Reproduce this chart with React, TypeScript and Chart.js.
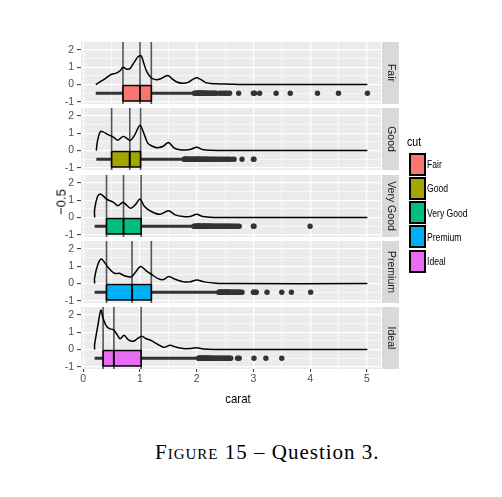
import React, { useEffect, useRef } from "react";
import { Chart, registerables } from "chart.js";

Chart.register(...registerables);

// ---------- data ----------
const CUTS = ["Fair", "Good", "Very Good", "Premium", "Ideal"];
const FILLS = ["#F8766D", "#A3A500", "#00BF7D", "#00B0F6", "#E76BF3"];
const X_GRID = [0, 0.5, 1, 1.5, 2, 2.5, 3, 3.5, 4, 4.5, 5];
const Y_GRID = [-1, -0.5, 0, 0.5, 1, 1.5, 2];

const Q1 = [0.7, 0.5, 0.41, 0.41, 0.35];
const MEDIAN = [1.0, 0.82, 0.71, 0.86, 0.54];
const Q3 = [1.2, 1.01, 1.02, 1.2, 1.02];
const WHISK_LO = [0.22, 0.23, 0.2, 0.2, 0.2];
const WHISK_HI = [1.93, 1.77, 1.93, 2.38, 2.02];

const OUT_FAIR = [1.96, 1.98, 2.0, 2.01, 2.02, 2.03, 2.04, 2.05, 2.06, 2.07, 2.08, 2.09, 2.1, 2.11, 2.12, 2.14, 2.15, 2.17, 2.18, 2.2, 2.22, 2.25, 2.28, 2.3, 2.32, 2.34, 2.4, 2.44, 2.48, 2.51, 2.54, 2.58, 2.74, 3.0, 3.02, 3.11, 3.4, 3.65, 4.13, 4.5, 5.01];
const OUT_GOOD = [1.78, 1.79, 1.8, 1.81, 1.82, 1.83, 1.84, 1.86, 1.88, 1.9, 1.91, 1.93, 1.95, 1.97, 1.99, 2.0, 2.01, 2.02, 2.04, 2.05, 2.07, 2.09, 2.1, 2.12, 2.14, 2.16, 2.18, 2.2, 2.22, 2.25, 2.28, 2.3, 2.33, 2.36, 2.4, 2.43, 2.47, 2.51, 2.54, 2.57, 2.62, 2.66, 2.8, 3.0, 3.01];
const OUT_VERYGOOD = [1.95, 1.97, 1.99, 2.0, 2.01, 2.02, 2.03, 2.04, 2.05, 2.06, 2.07, 2.08, 2.1, 2.11, 2.12, 2.13, 2.14, 2.15, 2.16, 2.18, 2.19, 2.2, 2.21, 2.22, 2.24, 2.25, 2.26, 2.28, 2.3, 2.32, 2.34, 2.36, 2.38, 2.4, 2.42, 2.44, 2.46, 2.48, 2.5, 2.52, 2.54, 2.56, 2.58, 2.6, 2.63, 2.66, 2.68, 2.72, 2.75, 3.0, 3.01, 4.0];
const OUT_PREMIUM = [2.39, 2.4, 2.41, 2.42, 2.43, 2.44, 2.45, 2.46, 2.48, 2.49, 2.5, 2.51, 2.52, 2.53, 2.54, 2.55, 2.56, 2.57, 2.58, 2.6, 2.61, 2.63, 2.65, 2.67, 2.68, 2.7, 2.72, 2.74, 2.75, 2.77, 2.8, 3.0, 3.01, 3.04, 3.05, 3.24, 3.5, 3.67, 4.01];
const OUT_IDEAL = [2.03, 2.04, 2.05, 2.06, 2.07, 2.08, 2.09, 2.1, 2.11, 2.12, 2.13, 2.14, 2.15, 2.16, 2.17, 2.18, 2.19, 2.2, 2.21, 2.22, 2.24, 2.25, 2.26, 2.28, 2.3, 2.32, 2.34, 2.36, 2.38, 2.4, 2.42, 2.44, 2.46, 2.48, 2.5, 2.52, 2.54, 2.56, 2.58, 2.6, 2.72, 2.75, 3.01, 3.22, 3.5];
const OUTLIERS = [OUT_FAIR, OUT_GOOD, OUT_VERYGOOD, OUT_PREMIUM, OUT_IDEAL];

const DX_FAIR = [0.22, 0.3, 0.4, 0.5, 0.58, 0.65, 0.7, 0.76, 0.82, 0.9, 0.97, 1.02, 1.07, 1.12, 1.2, 1.29, 1.38, 1.44, 1.5, 1.56, 1.65, 1.75, 1.85, 1.93, 2.0, 2.07, 2.15, 2.25, 2.4, 2.6, 2.8, 5.01];
const DY_FAIR = [0, 0.17, 0.38, 0.6, 0.66, 0.8, 1.0, 0.9, 0.92, 1.3, 1.62, 1.67, 1.2, 0.75, 0.38, 0.28, 0.36, 0.47, 0.52, 0.35, 0.15, 0.08, 0.13, 0.3, 0.4, 0.3, 0.13, 0.06, 0.04, 0.02, 0.005, 0];
const DX_GOOD = [0.23, 0.25, 0.3, 0.35, 0.44, 0.53, 0.61, 0.7, 0.75, 0.83, 0.91, 1.0, 1.07, 1.14, 1.22, 1.3, 1.41, 1.5, 1.6, 1.7, 1.8, 1.9, 2.0, 2.1, 2.25, 2.5, 5.01];
const DY_GOOD = [0, 0.55, 1.1, 1.08, 0.92, 0.78, 0.6, 0.82, 0.75, 0.59, 0.92, 1.47, 0.98, 0.42, 0.25, 0.16, 0.25, 0.47, 0.16, 0.05, 0.04, 0.08, 0.2, 0.06, 0.02, 0.005, 0];
const DX_VERYGOOD = [0.2, 0.2, 0.25, 0.3, 0.35, 0.41, 0.47, 0.53, 0.61, 0.7, 0.77, 0.84, 0.92, 1.0, 1.08, 1.2, 1.35, 1.5, 1.62, 1.76, 1.88, 2.0, 2.11, 2.3, 2.6, 5.01];
const DY_VERYGOOD = [0, 0.48, 1.2, 1.36, 1.25, 1.07, 0.97, 0.89, 0.68, 0.89, 0.7, 0.54, 0.75, 1.07, 0.64, 0.35, 0.19, 0.39, 0.16, 0.06, 0.06, 0.19, 0.06, 0.01, 0, 0];
const DX_PREMIUM = [0.2, 0.2, 0.26, 0.32, 0.38, 0.44, 0.5, 0.56, 0.64, 0.73, 0.85, 0.93, 1.01, 1.11, 1.2, 1.32, 1.41, 1.51, 1.62, 1.77, 1.88, 2.0, 2.13, 2.34, 2.6, 5.01];
const DY_PREMIUM = [0, 0.35, 1.13, 1.42, 1.2, 0.93, 0.72, 0.58, 0.6, 0.45, 0.39, 0.7, 0.99, 0.74, 0.54, 0.29, 0.23, 0.41, 0.25, 0.1, 0.1, 0.21, 0.1, 0.02, 0, 0];
const DX_IDEAL = [0.2, 0.2, 0.26, 0.31, 0.35, 0.4, 0.46, 0.53, 0.59, 0.65, 0.72, 0.79, 0.88, 0.95, 1.03, 1.11, 1.2, 1.32, 1.42, 1.53, 1.64, 1.76, 1.88, 2.0, 2.12, 2.3, 2.6, 5.01];
const DY_IDEAL = [0, 0.29, 1.44, 2.28, 1.8, 1.4, 1.21, 1.15, 0.9, 0.63, 0.83, 0.58, 0.48, 0.62, 0.77, 0.63, 0.52, 0.29, 0.13, 0.25, 0.13, 0.06, 0.06, 0.1, 0.04, 0.01, 0, 0];
const DENS_X = [DX_FAIR, DX_GOOD, DX_VERYGOOD, DX_PREMIUM, DX_IDEAL];
const DENS_Y = [DY_FAIR, DY_GOOD, DY_VERYGOOD, DY_PREMIUM, DY_IDEAL];

const BOX_Y = -0.5;
const BOX_HALF = 0.45;
const X_MIN = -0.04, X_MAX = 5.25;
const Y_MIN = -1.12, Y_MAX = 2.46;

// ---------- layout ----------
const FAM = "'Liberation Sans Narrow', 'Liberation Sans', Arial, sans-serif";
const PANEL_TOPS = [42, 108, 175, 241, 307];
const PANEL_H = 62;
const PAD_T = 12;
const CANVAS_W = 402;

const isInt = (v: number) => Math.abs(v - Math.round(v)) < 1e-9;

const panelPlugin = {
  id: "panelDeco",
  beforeDraw(chart: any) {
    const { ctx, chartArea: a } = chart;
    ctx.save();
    ctx.fillStyle = "#EBEBEB";
    ctx.fillRect(a.left, a.top, a.right - a.left, a.bottom - a.top);
    ctx.restore();
  },
  afterDraw(chart: any) {
    const { ctx, chartArea: a } = chart;
    const label = chart.options.plugins.panelDeco.label;
    ctx.save();
    ctx.fillStyle = "#D9D9D9";
    ctx.fillRect(a.right + 1, a.top, 17, a.bottom - a.top);
    ctx.translate(a.right + 1 + 8.5, (a.top + a.bottom) / 2);
    ctx.rotate(Math.PI / 2);
    ctx.fillStyle = "#1A1A1A";
    ctx.font = `10.5px ${FAM}`;
    ctx.textAlign = "center";
    ctx.textBaseline = "middle";
    ctx.fillText(label, 0, 0);
    ctx.restore();
  },
};

function Panel({ idx }: { idx: number }) {
  const ref = useRef<HTMLCanvasElement>(null);
  const last = idx === CUTS.length - 1;
  const height = PAD_T + PANEL_H + (last ? 28 : 12);
  useEffect(() => {
    const pts = (xs: number[], ys: number[]) => xs.map((x, i) => ({ x, y: ys[i] }));
    const vline = (x: number) => ({
      data: [{ x, y: Y_MIN }, { x, y: Y_MAX }],
      borderColor: "#555555",
      borderWidth: 1.6,
      order: 6,
    });
    const top = BOX_Y + BOX_HALF, bot = BOX_Y - BOX_HALF;
    const chart = new Chart(ref.current!, {
      type: "line",
      data: {
        datasets: [
          {
            data: pts(DENS_X[idx], DENS_Y[idx]),
            borderColor: "#000",
            borderWidth: 1.5,
            tension: 0.3,
            fill: false,
            order: 1,
          },
          {
            data: [{ x: MEDIAN[idx], y: top }, { x: MEDIAN[idx], y: bot }],
            borderColor: "#000",
            borderWidth: 2,
            order: 1.5,
          },
          {
            data: [
              { x: Q1[idx], y: top }, { x: Q3[idx], y: top },
              { x: Q3[idx], y: bot }, { x: Q1[idx], y: bot }, { x: Q1[idx], y: top },
            ],
            borderColor: "#000",
            borderWidth: 1.6,
            backgroundColor: FILLS[idx],
            fill: "shape",
            order: 2,
          },
          {
            data: OUTLIERS[idx].map((x) => ({ x, y: BOX_Y })),
            showLine: false,
            pointRadius: 2.7,
            pointBackgroundColor: "#333333",
            pointBorderWidth: 0,
            order: 3,
          },
          {
            data: [{ x: WHISK_LO[idx], y: BOX_Y }, { x: WHISK_HI[idx], y: BOX_Y }],
            borderColor: "#333333",
            borderWidth: 3,
            order: 4,
          },
          vline(Q1[idx]),
          vline(MEDIAN[idx]),
          vline(Q3[idx]),
        ] as any,
      },
      options: {
        animation: false,
        responsive: false,
        events: [],
        elements: { point: { radius: 0 }, line: { tension: 0 } },
        layout: { padding: { left: 51, right: 21, top: PAD_T, bottom: last ? 4 : 12 } },
        plugins: {
          legend: { display: false },
          tooltip: { enabled: false },
          panelDeco: { label: CUTS[idx] },
        } as any,
        scales: {
          x: {
            type: "linear",
            min: X_MIN,
            max: X_MAX,
            afterBuildTicks: (s: any) => { s.ticks = X_GRID.map((v) => ({ value: v })); },
            afterFit: (s: any) => { s.height = last ? 24 : 0; },
            ticks: {
              display: last,
              autoSkip: false,
              maxRotation: 0,
              padding: 1,
              color: "#4D4D4D",
              font: { size: 10.5, family: FAM },
              callback: (v: any) => (isInt(v) ? String(v) : ""),
            },
            grid: {
              color: "#FFFFFF",
              lineWidth: (c: any) => (isInt(c.tick.value) ? 1.2 : 0.6),
              drawTicks: last,
              tickLength: 3,
              tickWidth: 1,
              tickColor: (c: any) => (isInt(c.tick.value) ? "#333333" : "rgba(0,0,0,0)"),
            },
            border: { display: false },
          },
          y: {
            type: "linear",
            min: Y_MIN,
            max: Y_MAX,
            afterBuildTicks: (s: any) => { s.ticks = Y_GRID.map((v) => ({ value: v })); },
            afterFit: (s: any) => { s.width = 30; },
            ticks: {
              autoSkip: false,
              padding: 3,
              color: "#4D4D4D",
              font: { size: 10.5, family: FAM },
              callback: (v: any) => (isInt(v) ? String(v) : ""),
            },
            grid: {
              color: "#FFFFFF",
              lineWidth: (c: any) => (isInt(c.tick.value) ? 1.2 : 0.6),
              tickLength: 4,
              tickWidth: 1,
              tickColor: (c: any) => (isInt(c.tick.value) ? "#333333" : "rgba(0,0,0,0)"),
            },
            border: { display: false },
          },
        },
      },
      plugins: [panelPlugin],
    } as any);
    return () => chart.destroy();
  }, []);
  return (
    <canvas
      ref={ref}
      width={CANVAS_W}
      height={height}
      style={{ position: "absolute", left: 0, top: PANEL_TOPS[idx] - PAD_T, width: CANVAS_W, height }}
    />
  );
}

export default function App() {
  const text = { position: "absolute" as const, fontFamily: FAM, whiteSpace: "nowrap" as const };
  return (
    <div style={{ position: "fixed", left: 0, top: 0, width: 502, height: 497, background: "#fff", overflow: "hidden" }}>
      {CUTS.map((_, i) => (
        <Panel key={i} idx={i} />
      ))}
      <div
        style={{
          ...text,
          left: 61,
          top: 202,
          fontSize: 13,
          color: "#000",
          transform: "translate(-50%, -50%) rotate(-90deg)",
        }}
      >
        −0.5
      </div>
      <div style={{ ...text, left: 238, top: 398, fontSize: 13, color: "#000", transform: "translate(-50%, -50%) scaleX(0.88)" }}>
        carat
      </div>
      <div style={{ ...text, left: 407, top: 135, fontSize: 12, color: "#000", transform: "scaleX(0.88)", transformOrigin: "left center" }}>cut</div>
      {CUTS.map((c, i) => (
        <React.Fragment key={c}>
          <div
            style={{
              position: "absolute",
              left: 409,
              top: 152.5 + i * 24.3,
              width: 13,
              height: 19,
              border: "2px solid #000",
              background: FILLS[i],
            }}
          />
          <div
            style={{
              ...text,
              left: 427,
              top: 152.5 + i * 24.3 + 11.5,
              fontSize: 10,
              color: "#000",
              transform: "translateY(-50%) scaleX(0.86)",
              transformOrigin: "left center",
            }}
          >
            {c}
          </div>
        </React.Fragment>
      ))}
      <div
        style={{
          position: "absolute",
          left: 155,
          top: 440,
          fontFamily: "'Liberation Serif', 'DejaVu Serif', serif",
          fontSize: 21,
          letterSpacing: 1,
          color: "#000",
          whiteSpace: "nowrap",
        }}
      >
        <span style={{ fontVariant: "small-caps" }}>Figure</span> 15 – Question 3.
      </div>
    </div>
  );
}
